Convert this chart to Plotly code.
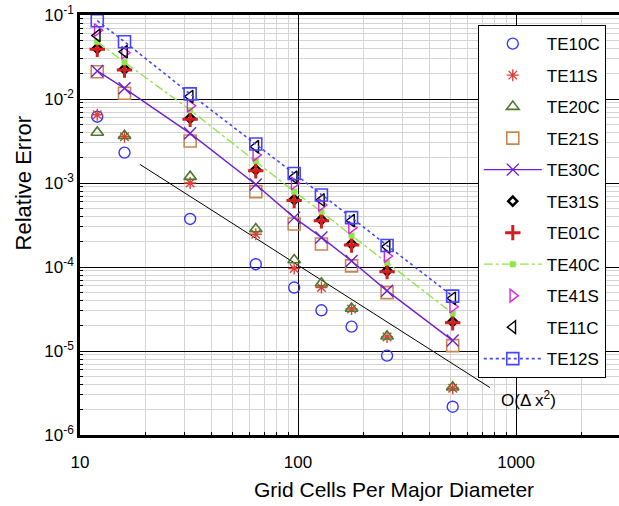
import plotly.graph_objects as go

# Grid resolution (cells per major diameter)
cells = [12, 16, 32, 64, 96, 128, 176, 256, 512]

# Relative error of each waveguide mode
te10c = [6.15e-3, 2.3e-3, 3.73e-4, 1.08e-4, 5.7e-5, 3.05e-5, 1.95e-5, 8.8e-6, 2.17e-6]
te11s = [6.5e-3, 3.56e-3, 1.0e-3, 2.45e-4, 9.6e-5, 5.7e-5, 3.16e-5, 1.47e-5, 3.6e-6]
te20c = [4.0e-3, 3.65e-3, 1.19e-3, 2.83e-4, 1.21e-4, 6.4e-5, 3.2e-5, 1.5e-5, 3.7e-6]
te21s = [2.11e-2, 1.17e-2, 3.16e-3, 7.9e-4, 3.25e-4, 1.88e-4, 1.03e-4, 4.95e-5, 1.16e-5]
te30c = [2.16e-2, 1.34e-2, 3.9e-3, 9.6e-4, 3.87e-4, 2.25e-4, 1.18e-4, 5.2e-5, 1.33e-5]
te31s = [4.0e-2, 2.27e-2, 5.9e-3, 1.44e-3, 6.35e-4, 3.66e-4, 1.88e-4, 9.0e-5, 2.23e-5]
te01c = [3.9e-2, 2.21e-2, 5.73e-3, 1.4e-3, 6.17e-4, 3.56e-4, 1.83e-4, 8.8e-5, 2.17e-5]
te40c = [4.8e-2, 2.74e-2, 7.4e-3, 1.83e-3, 7.9e-4, 4.56e-4, 2.36e-4, 1.13e-4, 2.8e-5]
te41s = [6.6e-2, 3.56e-2, 8.3e-3, 2.16e-3, 9.9e-4, 5.47e-4, 2.94e-4, 1.35e-4, 3.37e-5]
te11c = [5.7e-2, 3.65e-2, 1.07e-2, 2.7e-3, 1.17e-3, 6.28e-4, 3.56e-4, 1.75e-4, 4.24e-5]
te12s = [8.55e-2, 4.8e-2, 1.15e-2, 2.91e-3, 1.3e-3, 7.2e-4, 3.87e-4, 1.8e-4, 4.5e-5]

# Reference convergence-rate line
ref_x = [18.8, 760]
ref_y = [1.67e-3, 3.66e-6]

x_ticks = [10, 100, 1000]
x_tick_labels = ["10", "100", "1000"]
y_ticks = [1e-6, 1e-5, 1e-4, 1e-3, 1e-2, 1e-1]
y_tick_labels = ["10<sup>-6</sup>", "10<sup>-5</sup>", "10<sup>-4</sup>",
                 "10<sup>-3</sup>", "10<sup>-2</sup>", "10<sup>-1</sup>"]

FONT = "Liberation Sans, Arial, sans-serif"

series = [
    ("TE10C", te10c, dict(symbol="circle-open", size=11, color="#3535ff", line=dict(width=1.4)), None),
    ("TE11S", te11s, dict(symbol="asterisk-open", size=10, color="#e0403a", line=dict(width=1.4)), None),
    ("TE20C", te20c, dict(symbol="triangle-up-open", size=11, color="#4c7a2c", line=dict(width=1.6)), None),
    ("TE21S", te21s, dict(symbol="square-open", size=12, color="#c8864e", line=dict(width=1.6)), None),
    ("TE30C", te30c, dict(symbol="x-thin-open", size=12, color="#7020d0", line=dict(width=1.4)),
     dict(color="#7020d0", width=1.4, dash="solid")),
    ("TE31S", te31s, dict(symbol="diamond-open", size=7, color="black", line=dict(width=2.5)), None),
    ("TE01C", te01c, dict(symbol="cross-thin-open", size=11, color="#d41c1c", line=dict(width=3)), None),
    ("TE40C", te40c, dict(symbol="square", size=6, color="#8ee64a", line=dict(width=0)),
     dict(color="#8ee64a", width=1.4, dash="dashdot")),
    ("TE41S", te41s, dict(symbol="triangle-right-open", size=11, color="#e020e0", line=dict(width=1.4)), None),
    ("TE11C", te11c, dict(symbol="triangle-left-open", size=11, color="black", line=dict(width=1.4)), None),
    ("TE12S", te12s, dict(symbol="square-open", size=12, color="#4545ff", line=dict(width=1.6)),
     dict(color="#4545ff", width=1.6, dash="dot")),
]

fig = go.Figure()

fig.add_trace(go.Scatter(
    x=ref_x, y=ref_y, mode="lines", showlegend=False,
    line=dict(color="black", width=1), hoverinfo="skip",
))

for name, vals, marker, line in series:
    fig.add_trace(go.Scatter(
        x=cells, y=vals, name=name, legendgroup=name,
        mode="lines+markers" if line else "markers",
        marker=marker, line=line,
    ))

fig.add_annotation(
    x=2.922, y=-5.571, xref="x", yref="y", text="O(Δ x<sup>2</sup>)",
    showarrow=False, xanchor="left", yanchor="middle",
    font=dict(family=FONT, size=17, color="black"),
)

fig.add_annotation(
    x=0.583, y=-0.13, xref="paper", yref="paper",
    text="Grid Cells Per Major Diameter", showarrow=False,
    xanchor="center", yanchor="middle",
    font=dict(family=FONT, size=21, color="black"),
)
fig.add_annotation(
    x=-0.105, y=0.6, xref="paper", yref="paper",
    text="Relative Error", showarrow=False, textangle=-90,
    xanchor="center", yanchor="middle",
    font=dict(family=FONT, size=22, color="black"),
)

axis_common = dict(
    type="log", showline=True, linecolor="black",
    ticks="inside", ticklen=5, tickcolor="black",
    showgrid=True, gridcolor="black", gridwidth=1,
    tickfont=dict(family=FONT, size=17, color="black"),
    zeroline=False,
    minor=dict(dtick="D1", showgrid=True, gridcolor="#d4d4d4", gridwidth=1,
               ticks="inside", ticklen=3, tickcolor="black"),
)

fig.update_xaxes(
    **axis_common, range=[1, 3.472], tickmode="array",
    tickvals=x_ticks, ticktext=x_tick_labels, linewidth=2.5, mirror=True,
    ticklabelstandoff=10,
)
fig.update_yaxes(
    **axis_common, range=[-6, -1], tickmode="array",
    tickvals=y_ticks, ticktext=y_tick_labels, linewidth=2.5,
)

fig.update_layout(
    width=619, height=506,
    margin=dict(l=80, r=0, t=15, b=71),
    plot_bgcolor="white", paper_bgcolor="white",
    font=dict(family=FONT, size=17, color="black"),
    legend=dict(
        x=0.738, y=0.976, xanchor="left", yanchor="top",
        bgcolor="white", bordercolor="black", borderwidth=1,
        font=dict(family=FONT, size=17, color="black"),
        tracegroupgap=6.4, itemwidth=58,
    ),
)

fig.write_html("out.html")
